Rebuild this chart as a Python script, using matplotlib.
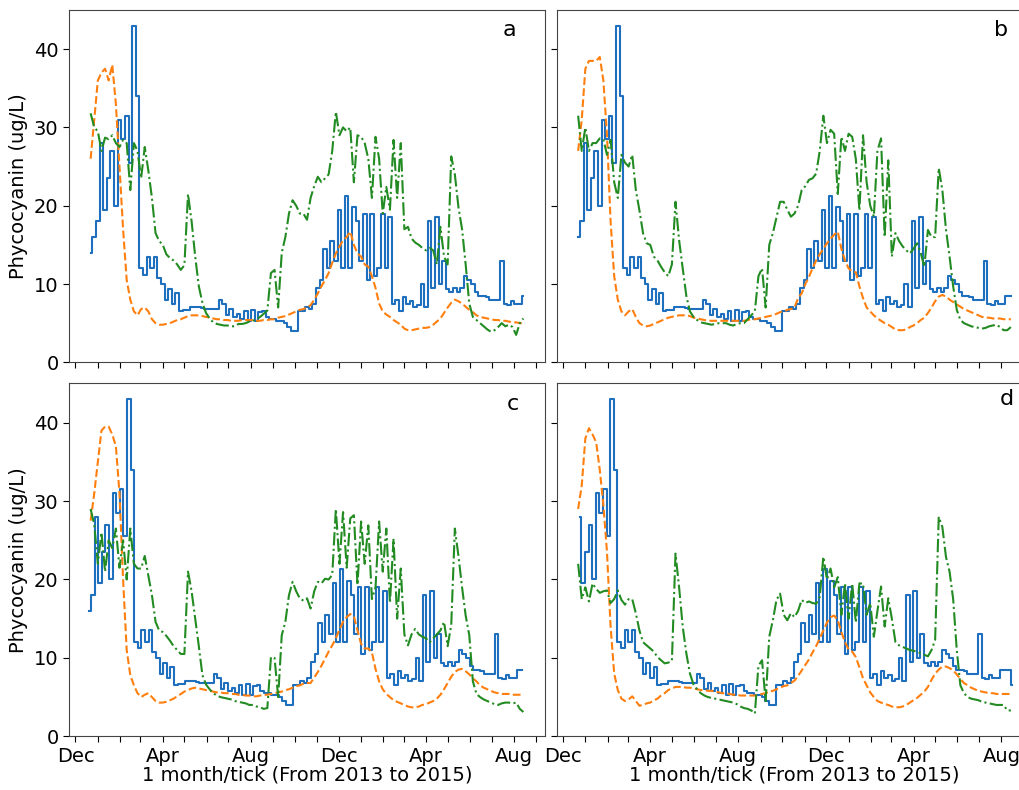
import numpy as np
import pandas as pd
import matplotlib
matplotlib.use("Agg")
import matplotlib.pyplot as plt
import matplotlib.dates as mdates

# ---------------- data (5-day samples, starting 2013-12-22) ----------------
START_DATE = "2013-12-22"
STEP_DAYS = 5
N_POINTS = 121

# observed phycocyanin (blue); shifted by the lead time of each panel
OBSERVED = [14, 16, 18, 28, 19.5, 23.5, 27, 20, 31, 28.5, 31.5, 25.5, 43, 34, 12, 11.2, 13.5, 12, 13.5, 10.8,
            10, 8, 9.3, 7.5, 8.8, 6.5, 6.7, 6.7, 7, 7, 7, 6.9, 6.8, 6.8, 6.8, 6.8, 7.9, 7.5, 6, 6.8,
            5.8, 6.2, 5.5, 6.6, 5.3, 6.7, 5.3, 6.4, 6.5, 5.8, 5.5, 5.5, 5.3, 5.3, 5, 4.5, 4, 4, 6.6, 6.6,
            7, 6.8, 7.5, 9.5, 10.5, 14.5, 12, 15.5, 13, 19.5, 12, 21.3, 12, 19.8, 18, 13, 19, 10.5, 19, 11,
            12, 19, 12, 18.5, 7.5, 8, 6.5, 8.3, 7.5, 7.8, 7, 7.3, 10, 7, 18, 9.5, 18.5, 10, 13, 9.3,
            9, 9.5, 9, 9.5, 11, 10.5, 10, 9, 8.5, 8.5, 8.3, 8, 8, 8, 13, 7.5, 7.3, 7.8, 7.4, 7.5,
            8.5, 8.5, 8.5, 6.5]
LEAD_DAYS = [0, 5, 7, 13]

ORANGE_A = [26, 31, 36, 37, 37.5, 36, 38, 33, 25, 17, 10.5, 8, 6.5, 6, 6.8, 7, 6.5, 5.5, 5, 4.8,
            4.8, 4.9, 5, 5.2, 5.4, 5.5, 5.7, 5.9, 6, 6, 6, 5.9, 5.8, 5.7, 5.6, 5.5, 5.5, 5.4, 5.4, 5.3,
            5.3, 5.3, 5.4, 5.4, 5.4, 5.4, 5.3, 5.3, 5.4, 5.4, 5.5, 5.5, 5.7, 5.8, 5.9, 6.1, 6.3, 6.5, 6.7, 6.8,
            7, 7.3, 8, 8.8, 9.7, 10.5, 11.4, 12.7, 13.9, 14.8, 15.6, 16, 16.7, 15, 13.9, 13.5, 12.5, 12.2, 11, 9.5,
            7.5, 6.5, 6.1, 5.8, 5.4, 5.1, 4.8, 4.3, 4.1, 4.1, 4.2, 4.3, 4.4, 4.4, 4.5, 4.8, 5.2, 5.6, 6.3, 7,
            7.6, 8, 7.8, 7.5, 7.1, 6.7, 6.4, 6, 5.8, 5.7, 5.6, 5.5, 5.4, 5.4, 5.3, 5.3, 5.2, 5.1, 5.1, 5, 5]
GREEN_A = [31.8, 30, 29.5, 27, 28.7, 28.5, 29, 28, 27.5, 28.4, 28, 22, 28, 27, 23.5, 27.5, 24.5, 21, 16.5, 15.5,
           15, 13.8, 13.3, 13, 12.5, 11.8, 12.4, 21.5, 18, 13.5, 9.7, 7.6, 6.3, 5.6, 5.1, 4.9, 4.8, 4.7, 4.7, 4.6,
           4.6, 4.9, 4.9, 5, 5.2, 5.3, 5.5, 5.8, 6.2, 6.6, 11.4, 11.8, 7, 14, 16, 19, 20.7, 20, 19, 19,
           18.2, 21, 22.5, 23.7, 23, 23.5, 24, 27, 32, 29, 30, 29.5, 30, 23, 29, 28.8, 28, 26, 21, 28.8,
           26, 19, 22.4, 19.5, 28.4, 21, 28, 17, 17.3, 15.8, 15.3, 15, 14.6, 14.3, 14.6, 14.3, 12.5, 17.3, 13.5, 12.5,
           26.3, 24, 19.8, 17, 12.5, 7.5, 5.8, 5.4, 5, 4.6, 4.2, 3.9, 4.1, 4.5, 5, 4.6, 4.8, 4.5, 3.5, 5, 5.6]

ORANGE_B = [27, 31, 37.5, 38.5, 38.5, 38.5, 39, 36, 29, 18, 11, 8, 6.5, 6, 6.5, 6.8, 5.8, 5, 4.7, 4.6,
            4.7, 4.9, 5.1, 5.3, 5.5, 5.7, 5.8, 5.9, 6, 6, 6, 5.9, 5.7, 5.6, 5.5, 5.4, 5.3, 5.3, 5.3, 5.3,
            5.3, 5.3, 5.3, 5.3, 5.3, 5.3, 5.3, 5.4, 5.5, 5.5, 5.6, 5.7, 5.8, 5.9, 6, 6.2, 6.4, 6.5, 6.7, 6.8,
            7, 8.2, 8.8, 10, 10.9, 12, 13, 13.8, 14.5, 15.2, 15.8, 16.3, 16.7, 14.5, 13, 12, 11.6, 11.5, 9.7, 8.2,
            7, 6.5, 6, 5.6, 5.3, 5, 4.8, 4.5, 4.2, 4.1, 4.1, 4.2, 4.5, 4.7, 5, 5.4, 5.7, 6.3, 7, 7.8,
            8.4, 8.6, 8.4, 8, 7.7, 7.4, 7.1, 6.8, 6.6, 6.4, 6.2, 6, 5.8, 5.7, 5.7, 5.6, 5.6, 5.6, 5.5, 5.5, 5.5]
GREEN_B = [31.5, 27, 30, 27, 28, 28, 28.6, 28.5, 26.5, 28.4, 23, 21, 26.5, 25.5, 25, 26.5, 22, 19.4, 16.5, 15.2,
           15, 13.5, 13, 12.2, 11.5, 11, 12.5, 20.5, 15.6, 12, 8.5, 6.5, 5.8, 5.4, 5.1, 5, 4.9, 4.8, 4.9, 5,
           5, 5, 4.8, 4.7, 4.9, 5, 5, 5.5, 6, 6.5, 11, 12, 7, 15, 16.5, 18.5, 20.5, 20.5, 19.5, 18.6,
           19, 20, 22, 22.5, 23.3, 23.5, 24.1, 27, 31.5, 28, 29.7, 29.2, 21.5, 28.8, 27, 29.2, 28.8, 26, 19.4, 29,
           23, 20, 18.6, 27, 28.6, 16, 25.8, 13.5, 16.5, 15.5, 14.8, 14.3, 13.9, 14.5, 15.2, 14, 12.2, 16.9, 16, 16,
           24.8, 22, 17, 13.5, 9.7, 6.7, 5.4, 5, 4.8, 4.6, 4.5, 4.4, 4.3, 4.4, 4.6, 4.7, 4.8, 4.5, 4.1, 4.1, 4.5]

ORANGE_C = [27.5, 31, 35, 39, 39.5, 39.5, 38.5, 37, 31, 20, 11, 7.8, 6.5, 5.5, 5, 5.3, 5.5, 5, 4.5, 4.3,
            4.3, 4.4, 4.6, 4.8, 5.1, 5.4, 5.7, 5.9, 6.1, 6.2, 6.1, 6, 5.9, 5.8, 5.7, 5.6, 5.6, 5.5, 5.5, 5.4,
            5.4, 5.3, 5.3, 5.2, 5.2, 5.1, 5.1, 5.2, 5.3, 5.3, 5.4, 5.5, 5.6, 5.7, 5.9, 6, 6.2, 6.4, 6.5, 6.7,
            6.8, 6.8, 7.5, 8.2, 9, 9.9, 10.8, 11.6, 12.5, 13.6, 14.6, 15.2, 15.6, 15.3, 13.5, 11.8, 11.2, 11.2, 10.7, 8.6,
            7, 6, 5.4, 5, 4.6, 4.4, 4.2, 4, 3.8, 3.7, 3.7, 3.8, 4, 4.1, 4.3, 4.5, 4.8, 5.3, 6, 6.8,
            7.6, 8.2, 8.5, 8.6, 8.3, 7.9, 7.4, 7, 6.5, 6.2, 6, 5.8, 5.6, 5.5, 5.4, 5.4, 5.4, 5.3, 5.3, 5.3, 5.3]
GREEN_C = [29, 27, 22, 26, 21, 25, 24, 26.5, 21.5, 25, 20, 26.5, 22, 21.4, 21.4, 23, 20.5, 18, 14.6, 13.5,
           13.3, 12.8, 12.2, 11.5, 11, 10.5, 10.5, 21, 18.5, 15, 11.5, 7.8, 6.6, 6, 5.5, 5.2, 5, 4.9, 4.8, 4.7,
           4.5, 4.4, 4.3, 4.2, 4, 4, 3.8, 3.7, 3.5, 3.6, 10.1, 10, 5, 12.9, 14.6, 18, 19.7, 18.5, 17.6, 17.3,
           17.6, 16.3, 18.5, 19.7, 19.5, 20.1, 20, 20.6, 29, 22, 28.6, 21.5, 27.8, 28.2, 19.3, 27.4, 22, 26.9, 17.5, 19,
           27.4, 21, 26.5, 17, 25.2, 15, 21.4, 13, 11.6, 13, 13.7, 13, 12.7, 12.5, 12, 12.5, 13, 13.5, 14.6, 11.5,
           14.2, 26.5, 23, 19, 15.4, 12.9, 7, 5.4, 5, 4.7, 4.5, 4.3, 4.1, 4, 4.2, 4.3, 4.3, 4.2, 4.3, 3.5, 3.1]

ORANGE_D = [29, 32, 38, 39.3, 38.5, 37.5, 34, 29.5, 23.5, 14, 8, 5.9, 4.8, 4.5, 4.7, 5.1, 4.5, 3.9, 4, 4.2,
            4.3, 4.6, 4.8, 5.2, 5.5, 5.9, 6.1, 6.3, 6.3, 6.3, 6.2, 6.2, 6.1, 6, 5.9, 5.9, 5.8, 5.8, 5.7, 5.6,
            5.5, 5.5, 5.4, 5.3, 5.3, 5.2, 5.2, 5.2, 5.2, 5.2, 5.3, 5.4, 5.5, 5.7, 5.8, 6, 6.2, 6.4, 6.5, 6.8,
            7.1, 7.7, 8.4, 9.1, 9.8, 10.7, 11.5, 12.5, 13.5, 14.5, 15.2, 15.4, 14.8, 13.3, 12, 11.1, 10.8, 10.1, 8.8, 7.4,
            6.5, 5.6, 5, 4.5, 4.3, 4.1, 4, 3.8, 3.7, 3.7, 3.8, 4, 4.3, 4.6, 4.9, 5.3, 5.7, 6.3, 7.2, 8,
            8.5, 8.9, 8.9, 8.7, 8.4, 7.9, 7.3, 6.8, 6.5, 6.2, 6, 5.8, 5.7, 5.6, 5.5, 5.5, 5.4, 5.4, 5.4, 5.4, 5.4]
GREEN_D = [22, 17.5, 19, 17.2, 19.5, 18.8, 18.3, 18.5, 18.6, 17, 17.5, 18.6, 17.4, 16.8, 17.5, 17.5, 15.7, 13.5, 12, 11.6,
           11.2, 10.8, 10.1, 9.7, 9.3, 9.4, 9.6, 23.3, 19, 14, 10.6, 8, 6.6, 6, 5.5, 5.2, 5, 4.9, 4.8, 4.7,
           4.6, 4.5, 4.4, 4.3, 4.1, 3.8, 3.6, 3.5, 3.3, 2.9, 9, 9.7, 4.5, 12.7, 14.8, 17.4, 18.2, 15.5, 14.8, 15.7,
           15.2, 16, 17.4, 17, 17.2, 17, 16.9, 17.8, 22.9, 20, 21.4, 19, 20.3, 15.5, 19.5, 15, 19.5, 14.5, 19.5, 19.5,
           15.5, 17, 12.7, 16, 19.1, 14, 17.6, 15, 12, 11.6, 11.4, 11.2, 11, 10.9, 10.8, 10.6, 10.4, 10.2, 11, 12.3,
           28, 26.7, 22.9, 21, 17.5, 11, 6.5, 5.5, 5, 4.8, 4.7, 4.6, 4.4, 4.3, 4.2, 4.1, 4, 4, 4, 3.3, 3.3]

PANEL_LABELS = ["a", "b", "c", "d"]
ORANGE_SERIES = [ORANGE_A, ORANGE_B, ORANGE_C, ORANGE_D]
GREEN_SERIES = [GREEN_A, GREEN_B, GREEN_C, GREEN_D]

Y_TICKS = [0, 10, 20, 30, 40]
Y_LABEL = "Phycocyanin (ug/L)"
X_LABEL = "1 month/tick (From 2013 to 2015)"

# ---------------- figure ----------------
dates = pd.date_range(START_DATE, periods=N_POINTS, freq=f"{STEP_DAYS}D")
obs_dates = pd.date_range(START_DATE, periods=len(OBSERVED), freq=f"{STEP_DAYS}D")
obs_vals = np.array(OBSERVED, dtype=float)

fig = plt.figure(figsize=(10.19, 7.9), dpi=100)
W, H = 1019.0, 790.0
ax_w = 476 / W
positions = [
    [69 / W, 1 - 362.3 / H, ax_w, 352.3 / H],
    [556.5 / W, 1 - 362.3 / H, ax_w, 352.3 / H],
    [69 / W, 1 - 736.3 / H, ax_w, 352.8 / H],
    [556.5 / W, 1 - 736.3 / H, ax_w, 352.8 / H],
]
letter_pos = [(0.926, 0.943), (0.935, 0.943), (0.932, 0.943), (0.947, 0.955)]

xmin = dates[0] - pd.Timedelta(days=30)
xmax = dates[-1] + pd.Timedelta(days=30)

blue = "#1f6fbf"
orange = "#ff7f0e"
green = "#228b22"

for k in range(4):
    ax = fig.add_axes(positions[k])
    shifted = obs_dates - pd.Timedelta(days=LEAD_DAYS[k])
    keep = (shifted >= dates[0] - pd.Timedelta(days=2)) & (shifted <= dates[-1] + pd.Timedelta(days=2))
    ax.plot(shifted[keep], obs_vals[keep], color=blue, lw=1.5, ls="-", drawstyle="steps-mid")
    ax.plot(dates, ORANGE_SERIES[k], color=orange, lw=1.5, ls="--")
    ax.plot(dates, GREEN_SERIES[k], color=green, lw=1.5, ls="-.")

    ax.set_xlim(xmin, xmax)
    ax.set_ylim(0, 45)
    ax.set_yticks(Y_TICKS)
    ax.xaxis.set_major_locator(mdates.MonthLocator(bymonth=[12, 4, 8]))
    ax.xaxis.set_major_formatter(mdates.DateFormatter("%b"))
    ax.xaxis.set_minor_locator(mdates.MonthLocator())
    ax.tick_params(axis="both", which="major", labelsize=14, length=4, width=0.8)
    ax.tick_params(axis="x", which="minor", length=4, width=0.8)
    for sp in ax.spines.values():
        sp.set_color("#444444")

    if k in (0, 1):
        ax.tick_params(axis="x", labelbottom=False)
    else:
        ax.set_xlabel(X_LABEL, fontsize=14, labelpad=0)
    if k in (1, 3):
        ax.tick_params(axis="y", labelleft=False)
    else:
        ax.set_ylabel(Y_LABEL, fontsize=14)

    ax.text(letter_pos[k][0], letter_pos[k][1], PANEL_LABELS[k], transform=ax.transAxes,
            ha="center", va="center", fontsize=16)

fig.savefig("out.png", dpi=100)
